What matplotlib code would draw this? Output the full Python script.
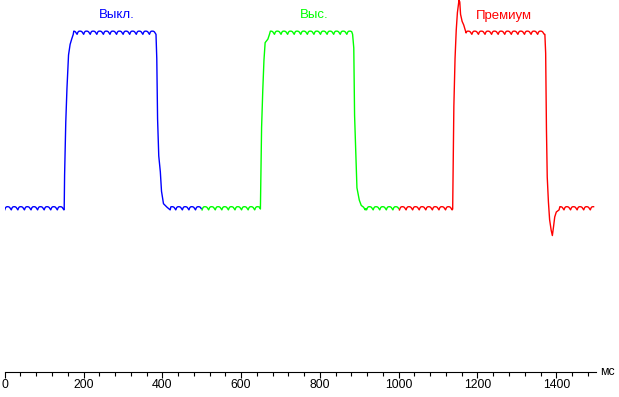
import numpy as np
import matplotlib.pyplot as plt

# time in ms, level in % (0 = dark level, 100 = bright level)
series_names = ["Выкл.", "Выс.", "Премиум"]
series_colors = ["#0000ff", "#00ff00", "#ff0000"]
series_span = [(0, 500), (500, 1000), (1000, 1496)]

# transitions: (ms, level)
blue_rise = [(151, 0), (152, 19), (155, 49), (158, 68), (162, 87), (166, 93), (170, 96), (174, 98.7)]
blue_fall = [(384, 98.7), (386, 85), (388, 51), (391, 30), (395, 21), (398, 10), (403, 3), (412, 1), (420, -0.5)]
green_rise = [(649, 0), (650, 15), (652, 46), (655, 67), (658, 84), (661, 94), (668, 96), (672, 98.7)]
green_fall = [(883, 98.7), (886, 91), (888, 53), (891, 32), (894, 12), (900, 5), (905, 2), (911, 1), (915, -0.5)]
red_rise = [(1137, 0), (1138, 20), (1140, 58), (1143, 85), (1146, 101), (1149, 111), (1153, 118),
            (1155, 117), (1157, 110), (1161, 106), (1165, 104), (1171, 99.5)]
red_fall = [(1371, 98.7), (1373, 88), (1375, 45), (1377, 18), (1380, 4), (1383, -6), (1387, -12),
            (1390, -15), (1393, -10), (1396, -4.5), (1400, -1.7), (1407, -0.5)]

low_level = -0.5
high_level = 98.7

# one period of the backlight ripple, as seen on the flat parts
ripple_period = 16.7
ripple = [0.0, 1.2, 1.7, 1.8, 1.8, 1.7, 1.4, 0.7]

label_pos = [(285, 109.6), (786, 109.6), (1267, 109.0)]

xticks = list(range(0, 1401, 200))


def flat(t0, t1, level):
    step = ripple_period / len(ripple)
    k = np.arange(np.ceil(t0 / step), np.floor(t1 / step) + 1).astype(int)
    return list(zip(k * step, level + np.array(ripple)[k % len(ripple)]))


def build(span, rise, fall):
    pts = flat(span[0], rise[0][0], low_level) + rise
    pts += flat(rise[-1][0] + 1, fall[0][0] - 1, high_level) + fall
    pts += flat(fall[-1][0] + 1, span[1], low_level)
    t, v = zip(*pts)
    return t, v


fig = plt.figure(figsize=(6.19, 3.97), dpi=100)
ax = fig.add_axes([4.7 / 619, 25 / 397, 1500 * 0.394 / 619, 372 / 397])

transitions = [(blue_rise, blue_fall), (green_rise, green_fall), (red_rise, red_fall)]
for name, color, span, (rise, fall), (lx, ly) in zip(series_names, series_colors, series_span,
                                                      transitions, label_pos):
    t, v = build(span, rise, fall)
    ax.plot(t, v, color=color, lw=1.0)
    ax.text(lx, ly, name, color=color, ha="center", va="center",
            fontsize=9.5, family="Liberation Sans")

ax.set_xlim(0, 1500)
ax.set_ylim(-92.1, 118.1)
for s in ["left", "right", "top"]:
    ax.spines[s].set_visible(False)
ax.spines["bottom"].set_linewidth(0.8)
ax.set_yticks([])
ax.set_xticks(xticks)
ax.set_xticks(range(0, 1501, 40), minor=True)
ax.tick_params(axis="x", which="major", direction="out", length=4.3, width=0.8, pad=0.8,
               labelsize=8.8)
ax.tick_params(axis="x", which="minor", direction="out", length=2.9, width=0.8)
for lab in ax.get_xticklabels():
    lab.set_family("Liberation Sans")
ax.text(1510, -92.1, "мс", ha="left", va="center", fontsize=8.8,
        family="Liberation Sans", clip_on=False)

fig.savefig("out.png", dpi=100)
